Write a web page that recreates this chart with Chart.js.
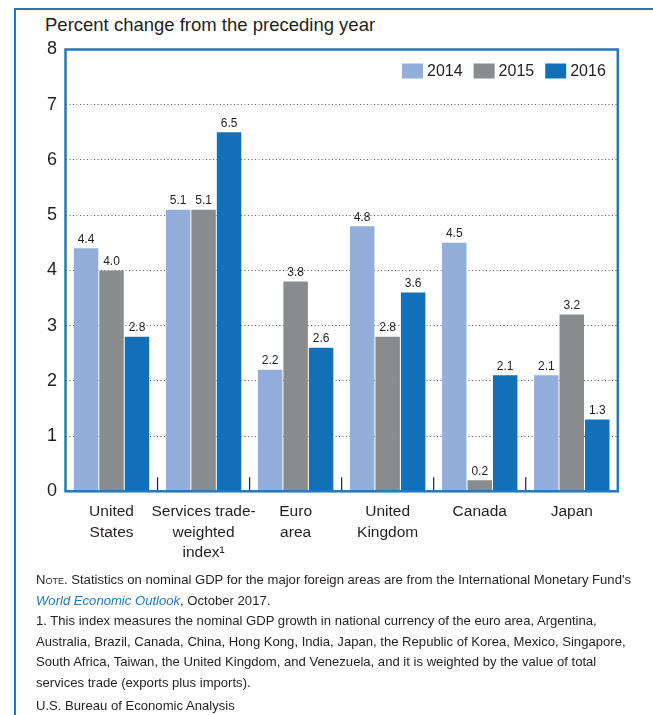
<!DOCTYPE html>
<html>
<head>
<meta charset="utf-8">
<script src="https://cdn.jsdelivr.net/npm/chart.js@4.4.1/dist/chart.umd.min.js"></script>
<style>
  html, body { margin:0; padding:0; background:#fff; }
  body { width:653px; height:715px; position:relative; overflow:hidden; font-family:"Liberation Sans", Arial, sans-serif; color:#231f20; }
  #frameTop { position:absolute; left:14px; top:8px; width:700px; height:0; border-top:2.5px solid #1f78c1; }
  #frameLeft { position:absolute; left:14px; top:8px; width:0; height:720px; border-left:2.5px solid #1f78c1; }
  #ytitle { position:absolute; left:45px; top:16px; font-size:18.5px; line-height:18px; white-space:nowrap; }
  #wrap { position:absolute; left:0; top:0; width:653px; height:580px; }
  #notes { position:absolute; left:36px; top:570px; font-size:13.1px; line-height:20.5px; white-space:nowrap; }
  #notes .sc { font-variant:small-caps; }
  #notes i { color:#1f78c1; }
</style>
</head>
<body>
<div id="frameTop"></div>
<div id="frameLeft"></div>
<div id="ytitle">Percent change from the preceding year</div>
<div id="wrap"><canvas id="chart" width="653" height="580"></canvas></div>
<div id="notes">
  <div><span class="sc">Note</span>. Statistics on nominal GDP for the major foreign areas are from the International Monetary Fund's</div>
  <div><i>World Economic Outlook</i>, October 2017.</div>
  <div>1. This index measures the nominal GDP growth in national currency of the euro area, Argentina,</div>
  <div>Australia, Brazil, Canada, China, Hong Kong, India, Japan, the Republic of Korea, Mexico, Singapore,</div>
  <div>South Africa, Taiwan, the United Kingdom, and Venezuela, and it is weighted by the value of total</div>
  <div>services trade (exports plus imports).</div>
  <div style="margin-top:3px">U.S. Bureau of Economic Analysis</div>
</div>
<script>
// chart values
var categories = [
    ["United", "States"],
    ["Services trade-", "weighted", "index\u00b9"],
    ["Euro", "area"],
    ["United", "Kingdom"],
    ["Canada"],
    ["Japan"]
];
var years = ["2014", "2015", "2016"];
var values2014 = [4.4, 5.1, 2.2, 4.8, 4.5, 2.1];
var values2015 = [4.0, 5.1, 3.8, 2.8, 0.2, 3.2];
var values2016 = [2.8, 6.5, 2.6, 3.6, 2.1, 1.3];
var yTicks = [0, 1, 2, 3, 4, 5, 6, 7, 8];

var colors = ["#93aeda", "#898b8d", "#1170b8"];
var boxBlue = "#1f78c1";
var font = "'Liberation Sans', Arial, sans-serif";

// blue box round the plot, plus the short category ticks on the base
var boxPlugin = {
    id: "box",
    afterDatasetsDraw: function(chart){
        var a = chart.chartArea, x = chart.scales.x, ctx = chart.ctx;
        ctx.save();
        ctx.strokeStyle = "#231f20";
        ctx.lineWidth = 1.2;
        for(var i = 0; i < categories.length - 1; i++){
            var px = (x.getPixelForValue(i) + x.getPixelForValue(i + 1)) / 2;
            ctx.beginPath();
            ctx.moveTo(px, a.bottom);
            ctx.lineTo(px, a.bottom - 14);
            ctx.stroke();
        }
        ctx.strokeStyle = boxBlue;
        ctx.lineWidth = 2.5;
        ctx.strokeRect(a.left, a.top, a.right - a.left, a.bottom - a.top);
        ctx.restore();
    }
};

// value written above each bar
var valueLabels = {
    id: "valueLabels",
    afterDatasetsDraw: function(chart){
        var ctx = chart.ctx;
        ctx.save();
        ctx.font = "12px " + font;
        ctx.fillStyle = "#231f20";
        ctx.textAlign = "center";
        ctx.textBaseline = "bottom";
        chart.data.datasets.forEach(function(ds, d){
            chart.getDatasetMeta(d).data.forEach(function(bar, i){
                ctx.fillText(ds.data[i].toFixed(1), bar.x, bar.y - 3);
            });
        });
        ctx.restore();
    }
};

// legend sits inside the plot, top right
var insideLegend = {
    id: "insideLegend",
    afterDraw: function(chart){
        var ctx = chart.ctx, a = chart.chartArea;
        ctx.save();
        ctx.font = "16px " + font;
        ctx.textBaseline = "middle";
        ctx.textAlign = "left";
        var right = a.right - 12;
        var y = a.top + 14;
        var items = chart.data.datasets.slice().reverse();
        items.forEach(function(ds){
            var tw = ctx.measureText(ds.label).width;
            var start = right - tw - 4 - 21;
            ctx.fillStyle = ds.backgroundColor;
            ctx.fillRect(start, y, 21, 15);
            ctx.fillStyle = "#231f20";
            ctx.fillText(ds.label, start + 25, y + 8);
            right = start - 11;
        });
        ctx.restore();
    }
};

var series = [values2014, values2015, values2016];
var datasets = series.map(function(v, k){
    return {
        label: years[k],
        data: v,
        backgroundColor: colors[k],
        borderWidth: 0,
        categoryPercentage: 0.83,
        barPercentage: 0.96
    };
});

new Chart(document.getElementById("chart"), {
    type: "bar",
    data: { labels: categories, datasets: datasets },
    plugins: [boxPlugin, valueLabels, insideLegend],
    options: {
        responsive: false,
        animation: false,
        layout: { padding: { left: 35.5, right: 35.2, top: 49.5, bottom: 20 } },
        plugins: { legend: { display: false }, tooltip: { enabled: false } },
        scales: {
            x: {
                grid: { display: false },
                border: { display: false },
                ticks: {
                    color: "#231f20",
                    font: { family: font, size: 15.5, lineHeight: 1.33 },
                    padding: 2,
                    maxRotation: 0,
                    autoSkip: false
                },
                afterFit: function(s){ s.height = 68.7; }
            },
            y: {
                min: 0,
                max: 8,
                afterBuildTicks: function(s){ s.ticks = yTicks.map(function(v){ return { value: v }; }); },
                grid: {
                    drawTicks: false,
                    color: function(c){ return (c.tick && c.tick.value > 0 && c.tick.value < 8) ? "#5a5a5a" : "rgba(0,0,0,0)"; },
                    lineWidth: 1
                },
                border: { display: false, dash: [1, 2.5] },
                ticks: {
                    color: "#231f20",
                    font: { family: font, size: 18 },
                    padding: 8.5
                },
                afterFit: function(s){ s.width = 30; }
            }
        }
    }
});
</script>
</body>
</html>
